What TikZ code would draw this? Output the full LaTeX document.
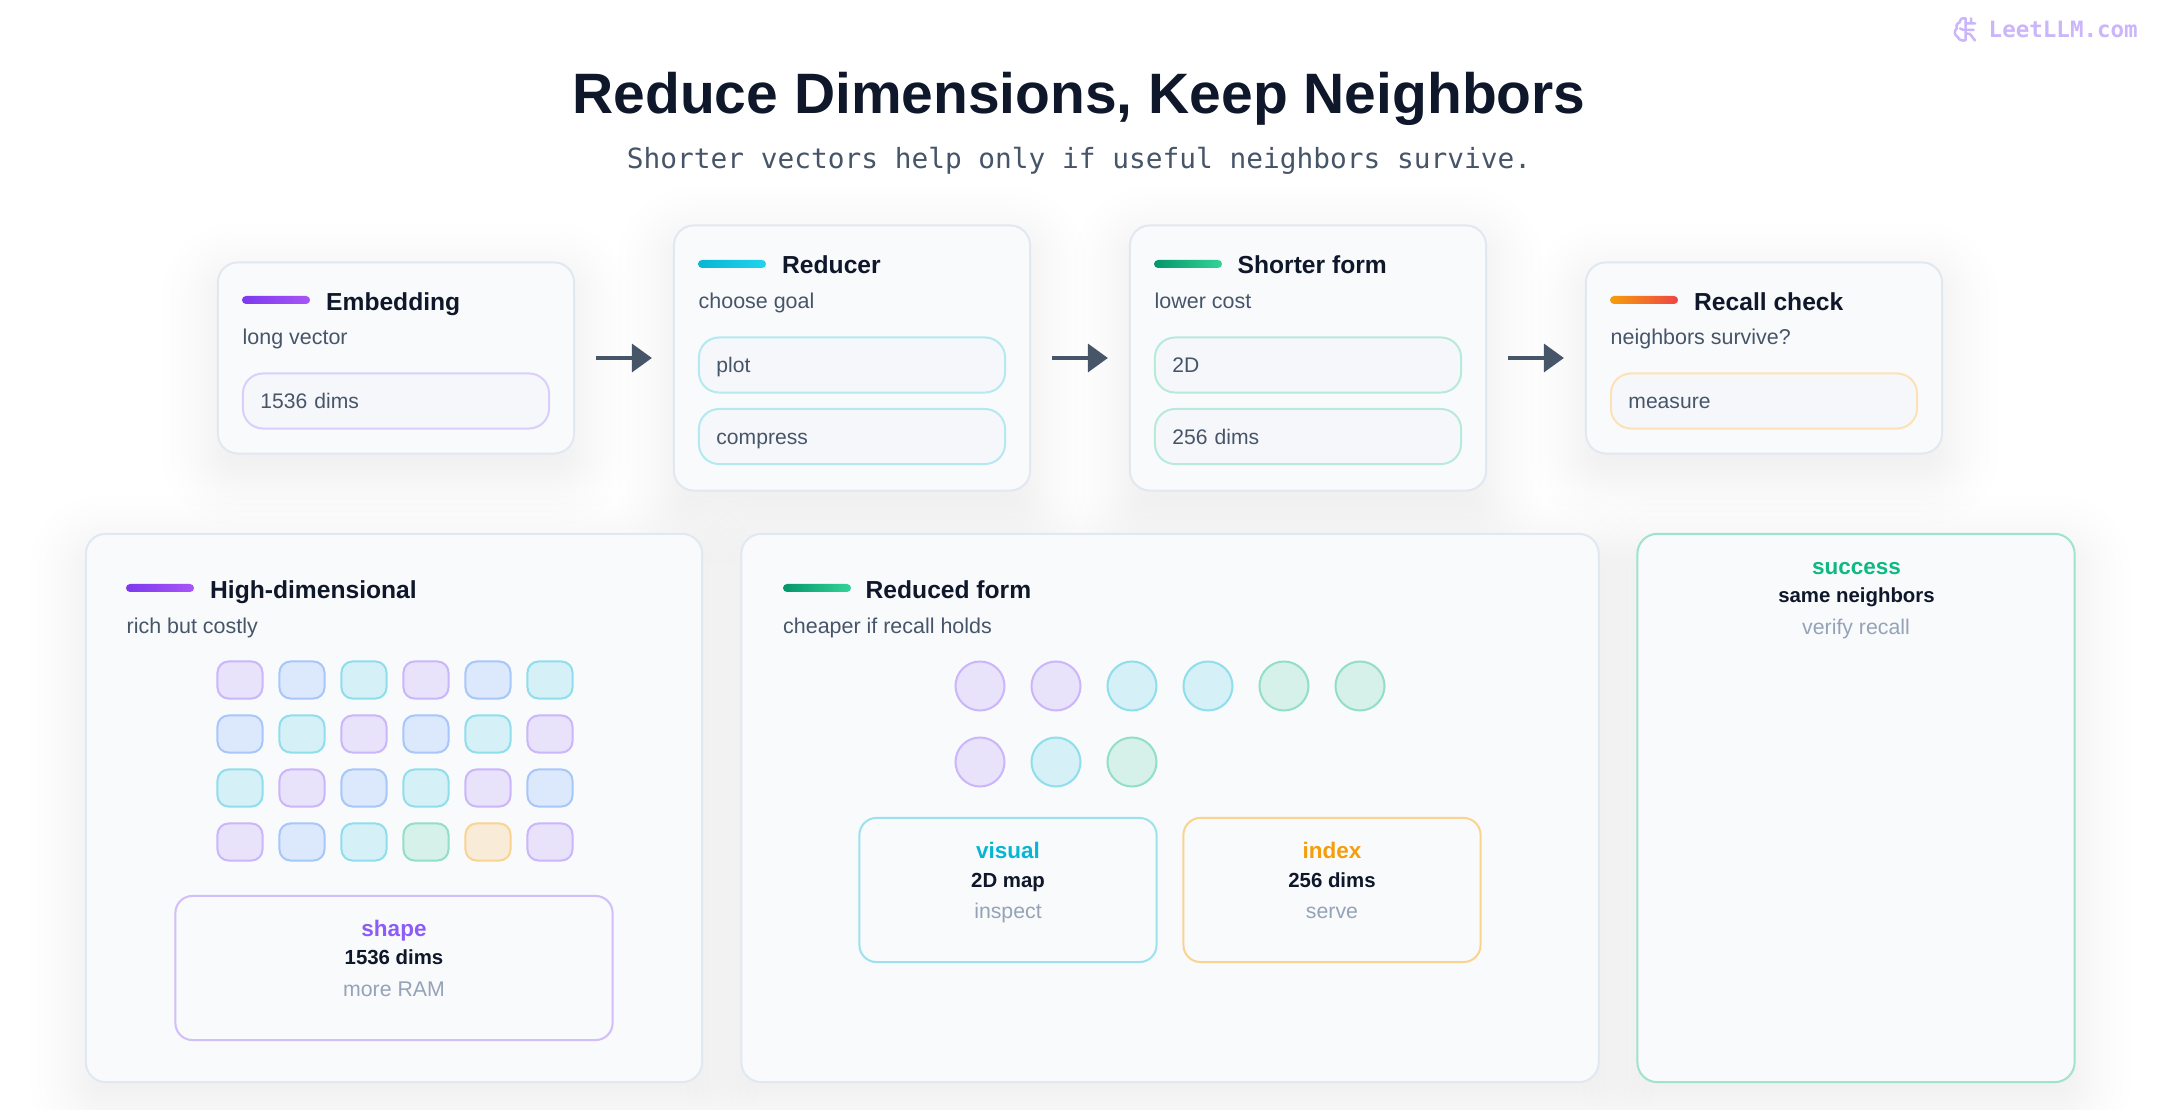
\documentclass[tikz,border=0pt]{standalone}
\usepackage{fontspec}
\setmainfont{Liberation Sans}
\newfontfamily\codefont{DejaVu Sans Mono}
\usetikzlibrary{arrows.meta,backgrounds}
\definecolor{ink}{HTML}{0F172A}
\definecolor{slate}{HTML}{475569}
\definecolor{muted}{HTML}{94A3B8}
\definecolor{paper}{HTML}{F9FAFC}
\definecolor{edge}{HTML}{E2E8F0}
\definecolor{chipbg}{HTML}{F5F7FB}
\definecolor{violet}{HTML}{8B5CF6}
\definecolor{cyan}{HTML}{06B6D4}
\definecolor{green}{HTML}{10B981}
\definecolor{amber}{HTML}{F59E0B}
\definecolor{tileblue}{HTML}{3B82F6}
\definecolor{violetA}{HTML}{7C3AED}
\definecolor{violetB}{HTML}{A855F7}
\definecolor{cyanB}{HTML}{22D3EE}
\definecolor{greenA}{HTML}{059669}
\definecolor{greenB}{HTML}{34D399}
\definecolor{redB}{HTML}{EF4444}
\tikzset{
  card/.style={draw=edge, fill=paper, line width=.02cm, rounded corners=.2cm, inner sep=0pt},
  chip/.style={draw=#1, fill=chipbg, line width=.02cm, rounded corners=.2cm, minimum width=3.06cm, minimum height=.55cm,
    inner sep=0pt, text width=2.71cm, align=left, text=slate, text height=.16cm, text depth=0pt, font=\fontsize{6.0}{7}\selectfont},
  accentbar/.style={minimum width=.68cm, minimum height=.08cm, inner sep=0pt, rounded corners=.04cm},
  head/.style={anchor=base west, inner sep=0pt, text=ink, font=\fontsize{7.0}{8}\selectfont\bfseries},
  note/.style={anchor=base west, inner sep=0pt, text=slate, font=\fontsize{6.1}{8}\selectfont},
  infobox/.style={draw=#1, fill=paper, line width=.02cm, rounded corners=.17cm, inner sep=0pt},
  infotag/.style={anchor=base, inner sep=0pt, text=#1, font=\fontsize{6.4}{8}\selectfont\bfseries},
  infomain/.style={anchor=base, inner sep=0pt, text=ink, font=\fontsize{5.8}{8}\selectfont\bfseries},
  infonote/.style={anchor=base, inner sep=0pt, text=muted, font=\fontsize{6.05}{8}\selectfont},
  tile/.style={draw=#1!45!white, fill=#1!15!paper, line width=.02cm, rounded corners=.11cm, minimum width=.45cm, minimum height=.37cm, inner sep=0pt},
  dot/.style={circle, draw=#1!45!white, fill=#1!15!paper, line width=.02cm, minimum size=.49cm, inner sep=0pt},
  flow/.style={draw=slate, line width=.035cm, shorten <=.21cm, shorten >=.21cm, -{Triangle[length=.2cm,width=.28cm]}}
}
% soft drop shadow under a card
\newcommand{\softshadow}[1]{
  \foreach \g in {-16,-11,-6,-2,2,6,10,14,18,23,28,34,40,47,55}{
    \pgfmathsetmacro{\gr}{.2+max(\g,0)*.01}
    \fill[black, opacity=.0058, rounded corners=\gr cm]
      ([shift={(-\g,-\g+17)}]#1.north west) rectangle ([shift={(\g,\g+17)}]#1.south east);
  }
}
\begin{document}
\begin{tikzpicture}[x=.01cm,y=-.01cm]
\useasboundingbox (0,0) rectangle (2160,1110);

% top row
\node[card, minimum width=3.56cm, minimum height=1.91cm] (embedding) at (396,358) {};
\node[card, minimum width=3.56cm, minimum height=2.65cm] (reducer) at (852,358) {};
\node[card, minimum width=3.56cm, minimum height=2.65cm] (shorter) at (1308,358) {};
\node[card, minimum width=3.56cm, minimum height=1.91cm] (recall) at (1764,358) {};

\node[accentbar, left color=violetA, right color=violetB] (embeddingbar) at (276,300) {};
\node[head] (embeddingtitle) at (325.5,311) {Embedding};
\node[note] (embeddingnote) at (242,345) {long vector};
\node[chip=violet!30!white] (embeddingchip) at (396,401) {1536 dims};

\node[accentbar, left color=cyan, right color=cyanB] (reducerbar) at (732,264) {};
\node[head] (reducertitle) at (781.5,274) {Reducer};
\node[note] (reducernote) at (698,309) {choose goal};
\node[chip=cyan!30!white] (plotchip) at (852,365) {plot};
\node[chip=cyan!30!white] (compresschip) at (852,436.5) {compress};

\node[accentbar, left color=greenA, right color=greenB] (shorterbar) at (1188,264) {};
\node[head] (shortertitle) at (1237,274) {Shorter form};
\node[note] (shorternote) at (1154,309) {lower cost};
\node[chip=green!30!white] (mapchip) at (1308,365) {2D};
\node[chip=green!30!white] (dimschip) at (1308,436.5) {256 dims};

\node[accentbar, left color=amber, right color=redB] (recallbar) at (1644,300) {};
\node[head] (recalltitle) at (1693.5,311) {Recall check};
\node[note] (recallnote) at (1610,345) {neighbors survive?};
\node[chip=amber!30!white] (measurechip) at (1764,401) {measure};

\draw[flow] (embedding) -- (reducer);
\draw[flow] (reducer) -- (shorter);
\draw[flow] (shorter) -- (recall);

% high-dimensional panel
\node[card, minimum width=6.16cm, minimum height=5.48cm] (highpanel) at (394,808) {};
\node[accentbar, left color=violetA, right color=violetB] (highbar) at (160,588) {};
\node[head] (hightitle) at (209.5,599) {High-dimensional};
\node[note] (highnote) at (126,634) {rich but costly};
\foreach \tone [count=\i from 0] in {violet,tileblue,cyan,violet,tileblue,cyan,
    tileblue,cyan,violet,tileblue,cyan,violet,
    cyan,violet,tileblue,cyan,violet,tileblue,
    violet,tileblue,cyan,green,amber,violet}{
  \pgfmathsetmacro{\tx}{240+62*mod(\i,6)}
  \pgfmathsetmacro{\ty}{680+54*floor(\i/6)}
  \node[tile=\tone] (tile\i) at (\tx,\ty) {};
}
\node[infobox=violet!40!white, minimum width=4.37cm, minimum height=1.44cm] (shapebox) at (394,968) {};
\node[infotag=violet] (shapetag) at (394,936.5) {shape};
\node[infomain] (shapemain) at (394,965) {1536 dims};
\node[infonote] (shapenote) at (394,996.5) {more RAM};

% reduced form panel
\node[card, minimum width=8.57cm, minimum height=5.48cm] (reducedpanel) at (1170,808) {};
\node[accentbar, left color=greenA, right color=greenB] (reducedbar) at (817,588) {};
\node[head] (reducedtitle) at (865,599) {Reduced form};
\node[note] (reducednote) at (782.5,634) {cheaper if recall holds};
\foreach \tone/\dx/\dy [count=\i] in {violet/980/686,violet/1056/686,cyan/1132/686,cyan/1208/686,green/1284/686,green/1360/686,
    violet/980/762,cyan/1056/762,green/1132/762}{
  \node[dot=\tone] (dot\i) at (\dx,\dy) {};
}
\node[infobox=cyan!40!white, minimum width=2.97cm, minimum height=1.44cm] (visualbox) at (1008,890) {};
\node[infotag=cyan] (visualtag) at (1008,858.5) {visual};
\node[infomain] (visualmain) at (1008,887) {2D map};
\node[infonote] (visualnote) at (1008,918.5) {inspect};
\node[infobox=amber!45!white, minimum width=2.97cm, minimum height=1.44cm] (indexbox) at (1332,890) {};
\node[infotag=amber] (indextag) at (1332,858.5) {index};
\node[infomain] (indexmain) at (1332,887) {256 dims};
\node[infonote] (indexnote) at (1332,918.5) {serve};

% success panel
\node[card, draw=green!40!white, minimum width=4.37cm, minimum height=5.48cm] (successpanel) at (1856,808) {};
\node[infotag=green] (successtag) at (1856.5,574.5) {success};
\node[infomain] (successmain) at (1856.5,603) {same neighbors};
\node[infonote] (successnote) at (1856,634.5) {verify recall};

% heading
\node[anchor=base, inner sep=0pt, text=ink, font=\fontsize{16.2}{18}\selectfont\bfseries] (title) at (1079,114) {Reduce Dimensions, Keep Neighbors};
\node[anchor=base, inner sep=0pt, text=slate, font=\codefont\fontsize{7.91}{9}\selectfont] (subtitle) at (1079,168.5) {Shorter vectors help only if useful neighbors survive.};

% watermark
\node[anchor=base west, inner sep=0pt, text=violet!45!white, font=\codefont\fontsize{6.4}{8}\selectfont\bfseries] (brand) at (1988,38) {LeetLLM.com};
\draw[violet!45!white, line width=.025cm, line cap=round, line join=round]
  (1965.7,18.3) .. controls (1961,17.5) and (1959.5,20) .. (1959.5,22.5) .. controls (1956,23.5) and (1956,27) .. (1956.7,28.5)
  .. controls (1954,30.5) and (1954,35) .. (1957.7,37) .. controls (1958.5,40) and (1963,41.5) .. (1965.7,40) -- cycle
  (1960,28.5) -- (1963.5,30)
  (1965.7,23.5) -- (1975,23.5) (1971,18.3) -- (1971,23.5)
  (1965.7,30) -- (1973.5,30)
  (1965.7,33.5) -- (1970,34) -- (1975,40.5);

\begin{scope}[on background layer]
\fill[white] (0,0) rectangle (2160,1110);
\foreach \c in {embedding,reducer,shorter,recall,highpanel,reducedpanel,successpanel}{
  \softshadow{\c}
}
\end{scope}
\end{tikzpicture}
\end{document}
